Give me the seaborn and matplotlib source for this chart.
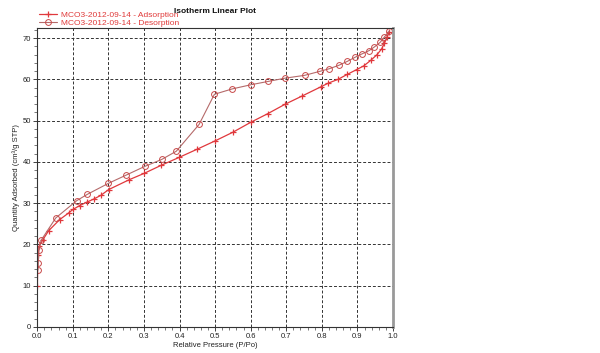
import matplotlib

matplotlib.use("Agg")
import matplotlib.pyplot as plt
import seaborn as sns
from matplotlib.ticker import MultipleLocator, FormatStrFormatter

ADS_P = [0.0005, 0.002, 0.006, 0.015, 0.032, 0.063, 0.088, 0.101, 0.119, 0.141,
         0.159, 0.179, 0.201, 0.259, 0.300, 0.349, 0.399, 0.450, 0.500, 0.550,
         0.600, 0.648, 0.697, 0.745, 0.797, 0.818, 0.845, 0.871, 0.898, 0.918,
         0.937, 0.955, 0.968, 0.976, 0.983, 0.990]
ADS_Q = [9.8, 17.4, 19.6, 21.0, 23.3, 26.0, 27.6, 28.5, 29.4, 30.3,
         31.0, 31.9, 33.3, 35.7, 37.2, 39.2, 41.1, 43.1, 45.1, 47.2,
         49.6, 51.7, 54.0, 56.0, 58.2, 59.1, 60.0, 61.2, 62.4, 63.3,
         64.6, 66.0, 67.4, 68.8, 70.2, 71.6]

DES_P = [0.990, 0.975, 0.964, 0.948, 0.933, 0.913, 0.894, 0.872, 0.847, 0.821,
         0.796, 0.752, 0.696, 0.648, 0.600, 0.548, 0.498, 0.455, 0.391, 0.350,
         0.302, 0.250, 0.200, 0.140, 0.111, 0.052, 0.011, 0.005, 0.003, 0.002]
DES_Q = [71.8, 70.2, 69.0, 67.9, 67.0, 66.2, 65.4, 64.4, 63.4, 62.6,
         62.0, 61.0, 60.3, 59.5, 58.7, 57.7, 56.4, 49.1, 42.6, 40.6,
         38.9, 36.8, 34.8, 32.1, 30.6, 26.4, 21.0, 18.7, 15.5, 13.8]

ADS_LABEL = "MCO3-2012-09-14 - Adsorption"
DES_LABEL = "MCO3-2012-09-14 - Desorption"

ADS_COLOR = "#e0383c"
DES_LINE = "#b56a6a"
DES_MARK = "#c84848"
TEXT_RED = "#e03a3a"

sns.set_theme(style="white")
plt.rcParams["font.family"] = ["Liberation Sans", "DejaVu Sans"]

fig = plt.figure(figsize=(6.0, 3.53), dpi=100)
ax = fig.add_axes([0.062, 0.074, 0.593, 0.847])

# adsorption branch
sns.lineplot(x=ADS_P, y=ADS_Q, sort=False, ax=ax, color=ADS_COLOR, lw=0.9,
             marker="+", markersize=5, markeredgewidth=0.9,
             markeredgecolor=ADS_COLOR, label=ADS_LABEL)
# desorption branch
sns.lineplot(x=DES_P, y=DES_Q, sort=False, ax=ax, color=DES_LINE, lw=0.8,
             marker="o", markersize=4.2, markerfacecolor="none",
             markeredgewidth=0.7, markeredgecolor=DES_MARK, label=DES_LABEL)

ax.set_xlim(0, 1.0)
ax.set_ylim(0, 72.5)
ax.xaxis.set_major_locator(MultipleLocator(0.1))
ax.xaxis.set_minor_locator(MultipleLocator(0.02))
ax.yaxis.set_major_locator(MultipleLocator(10))
ax.yaxis.set_minor_locator(MultipleLocator(2))
ax.xaxis.set_major_formatter(FormatStrFormatter("%.1f"))

ax.grid(True, which="major", color="#333333", linestyle=(0, (3, 2)), lw=0.7)
ax.tick_params(which="major", direction="out", length=3, width=0.6,
               labelsize=5.5, pad=1.5, colors="#222222", bottom=True, left=True)
ax.tick_params(which="minor", direction="out", length=2, width=0.5,
               colors="#444444", bottom=True, left=True)

for side in ["left", "bottom", "top"]:
    ax.spines[side].set_color("#333333")
    ax.spines[side].set_linewidth(0.8)
ax.spines["right"].set_color("#999999")
ax.spines["right"].set_linewidth(2.0)

ax.set_xlabel("Relative Pressure (P/Po)", fontsize=5.5, labelpad=1, color="#222222")
ax.set_ylabel("Quantity Adsorbed (cm³/g STP)", fontsize=5.5, labelpad=2, color="#222222")

leg = ax.legend(loc="lower left", bbox_to_anchor=(-0.01, 0.985), frameon=False,
                fontsize=6, handlelength=2.2, handletextpad=0.5,
                labelspacing=0.1, borderpad=0.1)
for t in leg.get_texts():
    t.set_color(TEXT_RED)

fig.text(0.358, 0.978, "Isotherm Linear Plot", ha="center", va="top",
         fontsize=6, fontweight="bold", color="#111111")

fig.savefig("out.png", dpi=100, facecolor="white")
